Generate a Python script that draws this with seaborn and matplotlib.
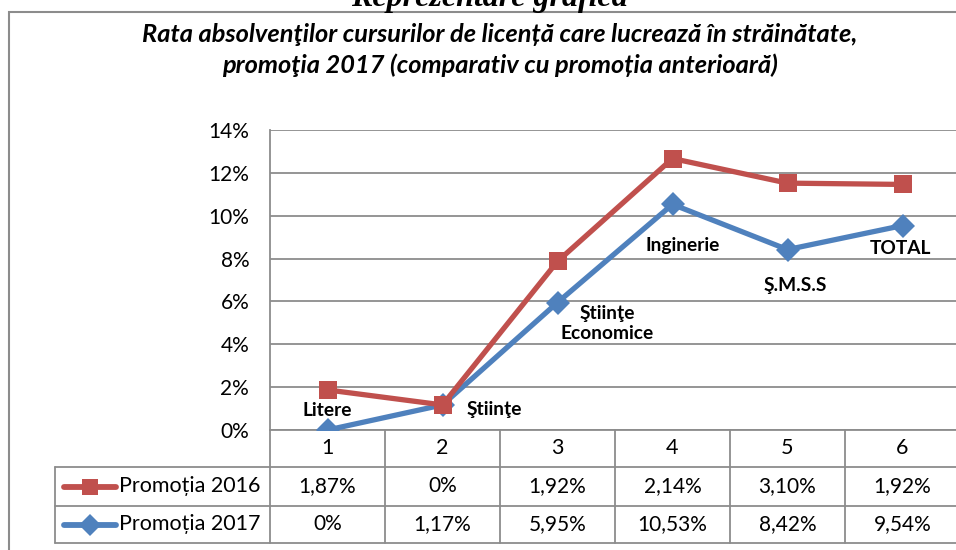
import matplotlib
matplotlib.use("Agg")
import matplotlib.pyplot as plt
import seaborn as sns
import pandas as pd
import numpy as np
from matplotlib.patches import Rectangle
from matplotlib.lines import Line2D
from matplotlib.ticker import FuncFormatter

# ---------------- data ----------------
categories = [1, 2, 3, 4, 5, 6]
category_names = ["Litere", "Ştiinţe", "Ştiinţe\nEconomice", "Inginerie", "Ş.M.S.S", "TOTAL"]
promotia_2016 = [1.87, 0.0, 1.92, 2.14, 3.10, 1.92]
promotia_2017 = [0.0, 1.17, 5.95, 10.53, 8.42, 9.54]
series_names = ["Promoția 2016", "Promoția 2017"]
y_ticks = [0, 2, 4, 6, 8, 10, 12, 14]
title_text = ("Rata absolvenţilor cursurilor de licență care lucrează în străinătate,\n"
              "promoţia 2017 (comparativ cu promoția anterioară)")
heading_text = "Reprezentare grafică"

# Excel stacked-line: the 2016 series is drawn on top of the 2017 series
df = pd.DataFrame({
    "cat": categories,
    "p2017": promotia_2017,
    "p2016_stacked": np.array(promotia_2016) + np.array(promotia_2017),
})

RED = "#C0504D"
BLUE = "#4F81BD"
GRID = "#8C8C8C"

sns.set_theme(style="white")
plt.rcParams["font.family"] = ["Lato", "DejaVu Sans"]

W, H = 956, 550
fig = plt.figure(figsize=(W / 100, H / 100), dpi=100)
fig.patch.set_facecolor("white")

def fx(px):
    return px / W

def fy(py):
    return 1 - py / H

ax_left, ax_right, ax_top, ax_bottom = 270, 960, 130, 430
ax = fig.add_axes([fx(ax_left), fy(ax_bottom), fx(ax_right - ax_left), (ax_bottom - ax_top) / H])

sns.lineplot(data=df, x="cat", y="p2017", ax=ax, color=BLUE, lw=3.8,
             marker="D", markersize=12.5, markeredgewidth=0, zorder=3)
sns.lineplot(data=df, x="cat", y="p2016_stacked", ax=ax, color=RED, lw=3.8,
             marker="s", markersize=13.5, markeredgewidth=0, zorder=4)

ax.set_xlim(0.5, 6.5)
ax.set_ylim(0, 14)
ax.set_yticks(y_ticks)
ax.yaxis.set_major_formatter(FuncFormatter(lambda v, p: f"{v:.0f}%"))
ax.set_xticks(categories)
ax.set_xticklabels([str(c) for c in categories])
ax.tick_params(axis="y", length=0, pad=15, labelsize=15, colors="black")
ax.tick_params(axis="x", length=0, pad=6, labelsize=15.5, colors="black")
ax.set_xlabel("")
ax.set_ylabel("")
ax.grid(axis="y", color=GRID, lw=1.3)
ax.grid(axis="x", visible=False)
for s in ["top", "right", "bottom"]:
    ax.spines[s].set_visible(False)
ax.spines["left"].set_color(GRID)
ax.spines["left"].set_linewidth(1.3)
ax.set_axisbelow(True)

# ---------------- category labels ----------------
label_offsets = [(0, 19), (52, -5), (50, -21), (10, -41), (8, -36), (-2, -23)]  # pixels
for c, v, name, (dx, dy) in zip(categories, promotia_2017, category_names, label_offsets):
    ax.annotate(name, (c, v), xytext=(dx * 0.72, dy * 0.72), textcoords="offset points",
                ha="center", va="center", fontsize=13.8, fontweight="bold",
                linespacing=1.2, color="black", zorder=6)

# ---------------- data table ----------------
tbl_header_bottom, row1_bottom, row2_bottom = 467, 506, 543
legend_left = 55
def ay(py):
    return (ax_bottom - py) / (ax_bottom - ax_top)
def axx(px):
    return (px - ax_left) / (ax_right - ax_left)

line_kw = dict(color=GRID, lw=1.3, transform=ax.transAxes, clip_on=False)
# horizontal lines
ax.add_line(Line2D([axx(legend_left), 1.05], [ay(tbl_header_bottom)] * 2, **line_kw))
ax.add_line(Line2D([axx(legend_left), 1.05], [ay(row1_bottom)] * 2, **line_kw))
ax.add_line(Line2D([axx(legend_left), 1.05], [ay(row2_bottom)] * 2, **line_kw))
ax.add_line(Line2D([0, 1.05], [0, 0], **line_kw))
# vertical lines
for k in range(0, 7):
    ax.add_line(Line2D([k / 6, k / 6], [0, ay(row2_bottom)], **line_kw))
ax.add_line(Line2D([axx(legend_left)] * 2, [ay(tbl_header_bottom), ay(row2_bottom)], **line_kw))

def fmt(v):
    return "0%" if v == 0 else f"{v:.2f}%".replace(".", ",")

row_centers = [(tbl_header_bottom + row1_bottom) / 2, (row1_bottom + row2_bottom) / 2]
trans = ax.get_xaxis_transform()
for vals, rc in zip([promotia_2016, promotia_2017], row_centers):
    for c, v in zip(categories, vals):
        ax.text(c, ay(rc), fmt(v), transform=trans, ha="center", va="center",
                fontsize=15, color="black", clip_on=False)

# legend keys
for name, color, mk, ms, rc in zip(series_names, [RED, BLUE], ["s", "D"], [12, 11], row_centers):
    ax.add_line(Line2D([axx(64), axx(116)], [ay(rc)] * 2, color=color, lw=4.2,
                       transform=ax.transAxes, clip_on=False, solid_capstyle="round"))
    ax.add_line(Line2D([axx(90)], [ay(rc)], color=color, marker=mk, markersize=ms,
                       markeredgewidth=0, transform=ax.transAxes, clip_on=False))
    ax.text(axx(119), ay(rc), name, transform=ax.transAxes, ha="left", va="center",
            fontsize=15.5, color="black", clip_on=False)

# ---------------- outer border and titles ----------------
fig.add_artist(Rectangle((fx(9), fy(600)), fx(1100), (600 - 12) / H, transform=fig.transFigure,
                         fill=False, edgecolor=GRID, lw=1.5))
fig.text(fx(500), fy(50), title_text, ha="center", va="center", fontsize=18.3,
         fontweight="bold", fontstyle="italic", linespacing=1.35, color="black")
fig.text(fx(489), fy(6), heading_text, ha="center", va="baseline", fontsize=23,
         fontweight="bold", fontstyle="italic", family=["Liberation Serif", "DejaVu Serif"],
         color="black")

fig.savefig("out.png", dpi=100, facecolor="white")
